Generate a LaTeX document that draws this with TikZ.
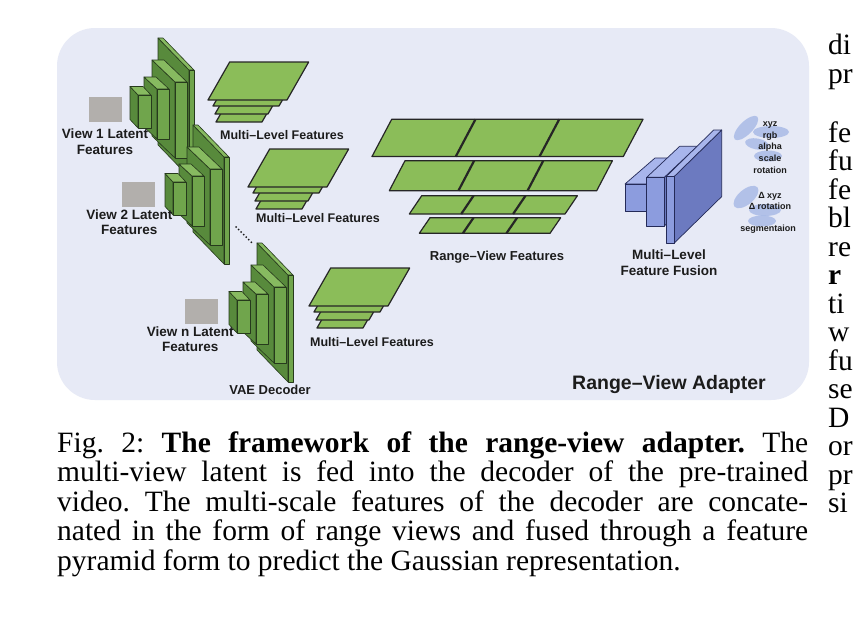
\documentclass[tikz,border=0pt]{standalone}
\usepackage{fontspec}
\setmainfont{Liberation Serif}
\setsansfont{Liberation Sans}
\usetikzlibrary{positioning}

\definecolor{panelbg}{RGB}{231,234,246}
\definecolor{latentgray}{RGB}{178,175,172}
\definecolor{decdark}{RGB}{88,138,60}
\definecolor{decmid}{RGB}{112,165,76}
\definecolor{declight}{RGB}{135,186,96}
\definecolor{decline}{RGB}{38,58,28}
\definecolor{featgreen}{RGB}{139,189,89}
\definecolor{fusefront}{RGB}{140,156,222}
\definecolor{fusetop}{RGB}{168,181,236}
\definecolor{fuseside}{RGB}{108,122,192}
\definecolor{fuseline}{RGB}{36,42,88}
\definecolor{blobblue}{RGB}{150,172,226}
\definecolor{labelink}{RGB}{28,28,28}

\begin{document}
\begin{tikzpicture}[x=1pt, y=-1pt,
  panel/.style = {fill=panelbg, rounded corners=38pt},
  latent/.style = {fill=latentgray, minimum width=33pt, minimum height=25pt, inner sep=0pt},
  decside/.style = {fill=decdark, draw=decline, line width=0.6pt, line join=round},
  dectop/.style = {fill=declight, draw=decline, line width=0.6pt, line join=round},
  decfront/.style = {fill=decmid, draw=decline, line width=0.6pt, line join=round},
  plane/.style = {fill=featgreen, draw=black!85, line width=1.2pt, line join=round},
  divider/.style = {draw=black!85, line width=2.2pt},
  fuseside/.style = {fill=fuseside, draw=fuseline, line width=0.7pt, line join=round},
  fusetop/.style = {fill=fusetop, draw=fuseline, line width=0.7pt, line join=round},
  fusefront/.style = {fill=fusefront, draw=fuseline, line width=0.7pt, line join=round},
  blob/.style = {fill=blobblue, fill opacity=0.65},
  lab/.style = {align=center, inner sep=0pt, text=labelink,
    font=\sffamily\bfseries\fontsize{13.5}{15.5}\selectfont},
  featlab/.style = {lab, font=\sffamily\bfseries\fontsize{12.5}{14}\selectfont},
  gslab/.style = {lab, font=\sffamily\bfseries\fontsize{9}{11.7}\selectfont},
  dots/.style = {draw=labelink, line width=2pt, line cap=round,
    dash pattern=on 0pt off 3.6pt},
  caption/.style = {inner sep=0pt, text width=751pt, align=justify,
    font=\rmfamily\frenchspacing\fontsize{29.5}{29.5}\selectfont},
  bodytext/.style = {inner sep=0pt, font=\rmfamily\fontsize{29.5}{29.5}\selectfont}
  ]
  \useasboundingbox (0,0) rectangle (867,629);
  \fill[white] (0,0) rectangle (867,629);
  \fill[panel] (57,28) rectangle (809,400);

  % decoder stacks
  \foreach \ox/\oy in {0/0, 35/87, 99/205} {
    \begin{scope}[shift={(\ox,\oy)}]
      \foreach \fx/\fy/\fw/\fh/\dx/\dy in {189/70/5/107/31/32, 175/82/12/76/23/22,
          157/89/12/50/13/12, 138/95/13/33/8/8.5} {
        \draw[decside] (\fx,\fy) -- (\fx-\dx,\fy-\dy) -- (\fx-\dx,\fy+\fh-\dy) -- (\fx,\fy+\fh) -- cycle;
        \draw[dectop] (\fx,\fy) -- (\fx-\dx,\fy-\dy) -- (\fx+\fw-\dx,\fy-\dy) -- (\fx+\fw,\fy) -- cycle;
        \draw[decfront] (\fx,\fy) rectangle (\fx+\fw,\fy+\fh);
      }
    \end{scope}
  }

  % latent views
  \node[latent] (lat1) at (105,109.2) {};
  \node[latent] (lat2) at (138.3,194.5) {};
  \node[latent] (lat3) at (201.3,311.5) {};
  \node[lab, below=7pt of lat1] (lat1txt) {View 1 Latent\\Features};
  \node[lab, below=2pt of lat2, xshift=-9pt] (lat2txt) {View 2 Latent\\Features};
  \node[lab, below=2pt of lat3, xshift=-11pt] (lat3txt) {View n Latent\\Features};

  \coordinate (dotA) at (236,227);
  \coordinate (dotB) at (252,243);
  \draw[dots] (dotA) -- (dotB);

  % multi-level features
  \foreach \ox/\oy in {0/0, 40/87, 101/206} {
    \begin{scope}[shift={(\ox,\oy)}]
      \foreach \px/\py/\pw/\ph in {216/122/46/20, 215/114/53/24, 213/106/66/30, 208/100/79/38}
        \draw[plane] (\px,\py) -- ++(\pw,0) -- ++(0.57*\ph,-\ph) -- ++(-\pw,0) -- cycle;
    \end{scope}
  }
  \node[featlab] (mlf1) at (282,135) {Multi--Level Features};
  \node[featlab] (mlf2) at (318,218) {Multi--Level Features};
  \node[featlab] (mlf3) at (372,342) {Multi--Level Features};

  % range-view features
  \foreach \rx/\ry/\rw/\rh/\rs in {372/156.5/251.3/37.2/19.7, 389.3/190.7/207.4/30/15.7,
      409.3/214/155.7/18.3/12.4, 419.3/233.3/130.7/15.6/10.7} {
    \draw[plane] (\rx,\ry) -- ++(\rw,0) -- ++(\rs,-\rh) -- ++(-\rw,0) -- cycle;
    \foreach \k in {1,2}
      \draw[divider] (\rx+\k*\rw/3,\ry) -- ++(\rs,-\rh);
  }
  \node[featlab, font=\sffamily\bfseries\fontsize{13}{15}\selectfont] (rvf) at (497,257) {Range--View Features};

  % feature fusion
  \foreach \fx/\fy/\fw/\fh/\dx/\dy in {625/184/21.7/27.7/30/26, 646.7/177.3/17.6/48.7/33/31,
      666/176.7/8/66.6/47.7/46.7} {
    \draw[fuseside] (\fx+\fw,\fy) -- ++(\dx,-\dy) -- ++(0,\fh) -- (\fx+\fw,\fy+\fh) -- cycle;
    \draw[fusetop] (\fx,\fy) -- ++(\dx,-\dy) -- ++(\fw,0) -- (\fx+\fw,\fy) -- cycle;
    \draw[fusefront] (\fx,\fy) rectangle (\fx+\fw,\fy+\fh);
  }
  \node[lab] (mlff) at (669,262.5) {Multi--Level\\Feature Fusion};

  % gaussian attributes
  \fill[blob, rotate around={45:(746,128)}] (746,128) ellipse [x radius=16, y radius=6.5];
  \fill[blob] (771,132) ellipse [x radius=18, y radius=6];
  \fill[blob, rotate around={-10:(757,144)}] (757,144) ellipse [x radius=12, y radius=5.5];
  \fill[blob] (768,156) ellipse [x radius=14, y radius=5.5];
  \fill[blob, rotate around={40:(746,197)}] (746,197) ellipse [x radius=15, y radius=7.5];
  \fill[blob] (765,210) ellipse [x radius=16, y radius=6];
  \fill[blob] (762,221) ellipse [x radius=14, y radius=5.5];
  \node[gslab] (gattr) at (770,147.6) {xyz\\rgb\\alpha\\scale\\rotation};
  \node[gslab] (gdelta) at (770,201) {Δ xyz\\Δ rotation};
  \node[gslab] (gseg) at (768,229.5) {segmentaion};

  \node[lab, font=\sffamily\bfseries\fontsize{13}{15}\selectfont] (vae) at (270,390) {VAE Decoder};
  \node[lab, font=\sffamily\bfseries\fontsize{19.5}{22}\selectfont] (rva) at (669,384) {Range--View Adapter};

  % caption and next column
  \node[caption, anchor=base west] (cap) at (57,452) {Fig.~2: \textbf{The framework of the range-view adapter.} The\linebreak
    multi-view latent is fed into the decoder of the pre-trained\linebreak
    video. The multi-scale features of the decoder are concate-\linebreak
    nated in the form of range views and fused through a feature\linebreak
    pyramid form to predict the Gaussian representation.};
  \foreach \txt/\yy [count=\i] in {di/54, pr/83, fe/142, fu/170.5, fe/199, bl/227.5, re/256,
      {\textbf{r}}/284.5, ti/313, w/341.5, fu/370, se/398.5, D/427, or/455.5, pr/484, si/512.5}
    \node[bodytext, anchor=base west] (col\i) at (828,\yy) {\txt};
\end{tikzpicture}
\end{document}
